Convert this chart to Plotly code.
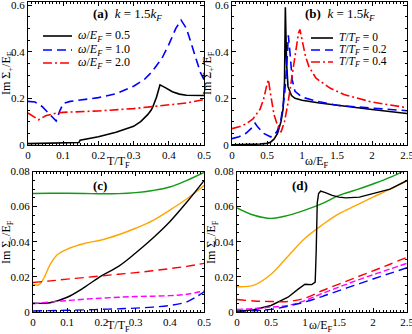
import plotly.graph_objects as go

# ---------------- Panel (a): Im Sigma_+ vs T/T_F ----------------
a_T_w05 = [0, 0.05, 0.1, 0.145, 0.148, 0.17, 0.2, 0.25, 0.3, 0.32, 0.34, 0.35, 0.355, 0.365, 0.37, 0.375, 0.39, 0.41, 0.43, 0.45, 0.5]
a_w05 = [0.006, 0.008, 0.010, 0.011, 0.021, 0.027, 0.035, 0.055, 0.08, 0.1, 0.13, 0.15, 0.165, 0.205, 0.235, 0.258, 0.246, 0.228, 0.218, 0.213, 0.212]
a_T_w10 = [0, 0.02, 0.04, 0.06, 0.08, 0.09, 0.1, 0.12, 0.15, 0.2, 0.25, 0.3, 0.33, 0.35, 0.38, 0.4, 0.42, 0.435, 0.45, 0.47, 0.49, 0.5]
a_w10 = [0.187, 0.184, 0.165, 0.135, 0.103, 0.145, 0.178, 0.187, 0.192, 0.203, 0.22, 0.252, 0.28, 0.31, 0.37, 0.43, 0.50, 0.535, 0.50, 0.40, 0.31, 0.28]
a_T_w20 = [0, 0.03, 0.05, 0.08, 0.1, 0.2, 0.3, 0.4, 0.45, 0.5]
a_w20 = [0.137, 0.108, 0.125, 0.137, 0.14, 0.146, 0.156, 0.17, 0.18, 0.195]

# ---------------- Panel (b): Im Sigma_+ vs omega/E_F ----------------
b_w_T0 = [0, 0.2, 0.4, 0.5, 0.55, 0.6, 0.65, 0.7, 0.73, 0.75, 0.757, 0.762, 0.77, 0.78, 0.8, 0.85, 0.9, 1.0, 1.25, 1.5, 2.0, 2.5]
b_T0 = [0.001, 0.002, 0.004, 0.007, 0.012, 0.025, 0.05, 0.1, 0.155, 0.27, 0.45, 0.59, 0.48, 0.35, 0.25, 0.212, 0.2, 0.192, 0.18, 0.17, 0.152, 0.135]
b_w_T02 = [0, 0.1, 0.2, 0.3, 0.33, 0.36, 0.45, 0.55, 0.6, 0.65, 0.7, 0.75, 0.78, 0.805, 0.83, 0.86, 0.9, 1.0, 1.25, 1.5, 2.0, 2.5]
b_T02 = [0.027, 0.035, 0.05, 0.078, 0.093, 0.08, 0.05, 0.035, 0.04, 0.062, 0.11, 0.21, 0.33, 0.47, 0.39, 0.28, 0.23, 0.205, 0.185, 0.17, 0.158, 0.147]
b_w_T04 = [0, 0.1, 0.2, 0.3, 0.4, 0.45, 0.5, 0.52, 0.55, 0.6, 0.65, 0.7, 0.75, 0.8, 0.85, 0.9, 0.95, 0.97, 1.0, 1.05, 1.1, 1.2, 1.4, 1.6, 2.0, 2.5]
b_T04 = [0.07, 0.078, 0.09, 0.112, 0.153, 0.195, 0.26, 0.28, 0.22, 0.13, 0.084, 0.055, 0.1, 0.18, 0.28, 0.38, 0.48, 0.495, 0.447, 0.38, 0.335, 0.286, 0.244, 0.216, 0.184, 0.16]

# ---------------- Panel (c): Im Sigma_- vs T/T_F ----------------
c_T = [0, 0.05, 0.1, 0.15, 0.2, 0.25, 0.3, 0.35, 0.4, 0.45, 0.5]
c_green = [0.0675, 0.0676, 0.0676, 0.0675, 0.0673, 0.0674, 0.068, 0.0692, 0.0712, 0.075, 0.0795]
c_black = [0.005, 0.0053, 0.0084, 0.014, 0.0206, 0.026, 0.0336, 0.042, 0.0514, 0.0626, 0.0748]
c_red = [0.0168, 0.0177, 0.0187, 0.0196, 0.0206, 0.0215, 0.0224, 0.0235, 0.0247, 0.026, 0.0277]
c_magenta = [0.0047, 0.0057, 0.0065, 0.0073, 0.0079, 0.0084, 0.0088, 0.009, 0.0093, 0.0101, 0.012]
c_blue = [0.0006, 0.0008, 0.001, 0.0012, 0.0015, 0.0018, 0.0022, 0.0028, 0.0037, 0.0058, 0.0115]
c_T_orange = [0, 0.015, 0.03, 0.05, 0.07, 0.1, 0.15, 0.2, 0.25, 0.3, 0.35, 0.4, 0.45, 0.5]
c_orange = [0.0159, 0.0153, 0.0187, 0.027, 0.0325, 0.0358, 0.039, 0.041, 0.044, 0.0477, 0.052, 0.058, 0.0645, 0.072]

# ---------------- Panel (d): Im Sigma_- vs omega/E_F ----------------
d_w = [0, 0.25, 0.5, 0.75, 1.0, 1.25, 1.5, 1.75, 2.0, 2.25, 2.5]
d_green = [0.0593, 0.0551, 0.0533, 0.055, 0.058, 0.0617, 0.0664, 0.0695, 0.0729, 0.0766, 0.0812]
d_orange = [0.0144, 0.0153, 0.0215, 0.0318, 0.042, 0.0495, 0.056, 0.0607, 0.0654, 0.07, 0.0751]
d_red = [0.0071, 0.0063, 0.006, 0.006, 0.0079, 0.0121, 0.0159, 0.0197, 0.0234, 0.0272, 0.0312]
d_magenta = [0.0015, 0.002, 0.0028, 0.0037, 0.0065, 0.0105, 0.0142, 0.0178, 0.0212, 0.0245, 0.0277]
d_blue = [0.0004, 0.0007, 0.0015, 0.0033, 0.0057, 0.0088, 0.0122, 0.0155, 0.0188, 0.022, 0.0252]
d_w_black = [0, 0.25, 0.5, 0.75, 0.9, 1.0, 1.1, 1.15, 1.165, 1.18, 1.2, 1.23, 1.3, 1.4, 1.5, 1.6, 1.8, 2.0, 2.25, 2.5]
d_black = [0.0004, 0.0013, 0.0037, 0.0084, 0.013, 0.0158, 0.0156, 0.017, 0.035, 0.062, 0.0675, 0.0688, 0.068, 0.0664, 0.0654, 0.065, 0.0654, 0.0673, 0.07, 0.0748]

# tick labels
tx_T = [0, 0.1, 0.2, 0.3, 0.4, 0.5]
tx_T_lbl = ["0", "0.1", "0.2", "0.3", "0.4", "0.5"]
tx_w = [0, 0.5, 1, 1.5, 2, 2.5]
tx_w_lbl = ["0", "0.5", "1", "1.5", "2", "2.5"]
ty_p = [0, 0.2, 0.4, 0.6]
ty_p_lbl = ["0", "0.2", "0.4", "0.6"]
ty_m = [0, 0.02, 0.04, 0.06, 0.08]
ty_m_lbl = ["0", "0.02", "0.04", "0.06", "0.08"]

legend_a = ["<i>ω</i>/<i>E<sub>F</sub></i> = 0.5", "<i>ω</i>/<i>E<sub>F</sub></i> = 1.0", "<i>ω</i>/<i>E<sub>F</sub></i> = 2.0"]
legend_b = ["<i>T</i>/<i>T<sub>F</sub></i> = 0", "<i>T</i>/<i>T<sub>F</sub></i> = 0.2", "<i>T</i>/<i>T<sub>F</sub></i> = 0.4"]

BLACK, BLUE, RED = "#000000", "#0000ff", "#ff0000"
GREEN, ORANGE, MAGENTA = "#139a13", "#ffa500", "#ff00ff"
LONGDASH = "9px,5px"
DASHDOT = "9px,3px,2px,3px"
SHORTDASH = "6px,3px"

W, H = 412, 334
fig = go.Figure()

def add(x, y, color, dash, xa, ya, name=None, shape="linear", width=1.6):
    fig.add_trace(go.Scatter(
        x=x, y=y, mode="lines", name=name,
        line=dict(color=color, dash=dash, width=width, shape=shape),
        xaxis=xa, yaxis=ya, showlegend=False, hoverinfo="skip"))

# (a)
add(a_T_w05, a_w05, BLACK, "solid", "x", "y", legend_a[0])
add(a_T_w10, a_w10, BLUE, LONGDASH, "x", "y", legend_a[1])
add(a_T_w20, a_w20, RED, DASHDOT, "x", "y", legend_a[2])
# (b)
add(b_w_T0, b_T0, BLACK, "solid", "x2", "y2", legend_b[0])
add(b_w_T02, b_T02, BLUE, LONGDASH, "x2", "y2", legend_b[1])
add(b_w_T04, b_T04, RED, DASHDOT, "x2", "y2", legend_b[2])
# (c)
add(c_T, c_green, GREEN, "solid", "x3", "y3", shape="spline", width=1.4)
add(c_T_orange, c_orange, ORANGE, "solid", "x3", "y3", shape="spline", width=1.4)
add(c_T, c_black, BLACK, "solid", "x3", "y3", shape="spline", width=1.4)
add(c_T, c_red, RED, LONGDASH, "x3", "y3", shape="spline", width=1.4)
add(c_T, c_magenta, MAGENTA, SHORTDASH, "x3", "y3", shape="spline", width=1.4)
add(c_T, c_blue, BLUE, LONGDASH, "x3", "y3", shape="spline", width=1.4)
# (d)
add(d_w, d_green, GREEN, "solid", "x4", "y4", shape="spline", width=1.4)
add(d_w, d_orange, ORANGE, "solid", "x4", "y4", shape="spline", width=1.4)
add(d_w_black, d_black, BLACK, "solid", "x4", "y4", width=1.4)
add(d_w, d_red, RED, LONGDASH, "x4", "y4", shape="spline", width=1.4)
add(d_w, d_magenta, MAGENTA, SHORTDASH, "x4", "y4", shape="spline", width=1.4)
add(d_w, d_blue, BLUE, LONGDASH, "x4", "y4", shape="spline", width=1.4)

SERIF = "Liberation Serif, Times New Roman, DejaVu Serif, serif"
tickfont = dict(family=SERIF, size=11, color="black")

def ax(domain, anchor, rng, tv, tl, minor):
    return dict(domain=domain, anchor=anchor, range=rng, tickvals=tv, ticktext=tl,
                ticks="inside", ticklen=4, tickcolor="black", showline=True, linecolor="black",
                linewidth=1, mirror="ticks", showgrid=False, zeroline=False,
                minor=dict(ticks="inside", ticklen=2, dtick=minor, tickcolor="black", showgrid=False),
                tickfont=tickfont, automargin=False, ticklabeloverflow="allow")

xa_dom = [28 / W, 204 / W]
xb_dom = [232 / W, 407 / W]
xc_dom = [33 / W, 204 / W]
xd_dom = [237 / W, 407 / W]
top_dom = [1 - 145 / H, 1 - 1.5 / H]
bot_dom = [1 - 312 / H, 1 - 171.5 / H]

fig.update_layout(
    width=W, height=H, margin=dict(l=0, r=0, t=0, b=0),
    paper_bgcolor="white", plot_bgcolor="white",
    font=dict(family=SERIF, color="black"),
    xaxis=ax(xa_dom, "y", [0, 0.5], tx_T, tx_T_lbl, 0.01),
    yaxis=ax(top_dom, "x", [0, 0.615], ty_p, ty_p_lbl, 0.05),
    xaxis2=ax(xb_dom, "y2", [0, 2.5], tx_w, tx_w_lbl, 0.05),
    yaxis2=ax(top_dom, "x2", [0, 0.615], ty_p, ty_p_lbl, 0.05),
    xaxis3=ax(xc_dom, "y3", [0, 0.5], tx_T, tx_T_lbl, 0.01),
    yaxis3=ax(bot_dom, "x3", [0, 0.08], ty_m, ty_m_lbl, 0.005),
    xaxis4=ax(xd_dom, "y4", [0, 2.5], tx_w, tx_w_lbl, 0.05),
    yaxis4=ax(bot_dom, "x4", [0, 0.08], ty_m, ty_m_lbl, 0.005),
    showlegend=False,
)

def note(txt, px, py, size=12, angle=0, xanchor="center"):
    fig.add_annotation(text=txt, x=px / W, y=1 - py / H, xref="paper", yref="paper",
                       showarrow=False, font=dict(family=SERIF, size=size, color="black"),
                       textangle=angle, xanchor=xanchor, yanchor="middle")

# axis titles
T_title = "T/T<sub>F</sub>"
w_title = "ω/E<sub>F</sub>"
yp_title = "Im Σ<sub>+</sub>/E<sub>F</sub>"
ym_title = "Im Σ<sub>−</sub>/E<sub>F</sub>"
note(T_title, 118, 162)
note(w_title, 317, 162)
note(T_title, 118, 326)
note(w_title, 321, 326)
note(yp_title, 7, 73, angle=-90)
note(yp_title, 208, 73, angle=-90)
note(ym_title, 7, 242, angle=-90)
note(ym_title, 212, 242, angle=-90)

# panel labels
note("<b>(a)</b>  <i>k</i> = 1.5<i>k<sub>F</sub></i>", 128, 14, size=13)
note("<b>(b)</b>  <i>k</i> = 1.5<i>k<sub>F</sub></i>", 340, 14, size=13)
note("<b>(c)</b>", 100, 186, size=13)
note("<b>(d)</b>", 300, 185, size=13)

# legends (line sample + label)
leg_style = [(BLACK, "solid"), (BLUE, LONGDASH), (RED, DASHDOT)]
for i, (lbl, (col, dash)) in enumerate(zip(legend_a, leg_style)):
    yy = [36, 50, 63][i]
    fig.add_shape(type="line", xref="paper", yref="paper", x0=43 / W, x1=72 / W,
                  y0=1 - yy / H, y1=1 - yy / H, line=dict(color=col, dash=dash, width=1.6))
    note(lbl, 76, yy, size=12, xanchor="left")
for i, (lbl, (col, dash)) in enumerate(zip(legend_b, leg_style)):
    yy = [38, 50, 62][i]
    fig.add_shape(type="line", xref="paper", yref="paper", x0=311 / W, x1=333 / W,
                  y0=1 - yy / H, y1=1 - yy / H, line=dict(color=col, dash=dash, width=1.6))
    note(lbl, 337, yy, size=11.5, xanchor="left")

fig.write_html("out.html", post_script="document.body.style.margin='0px';",
               config={"displayModeBar": False, "staticPlot": True})
